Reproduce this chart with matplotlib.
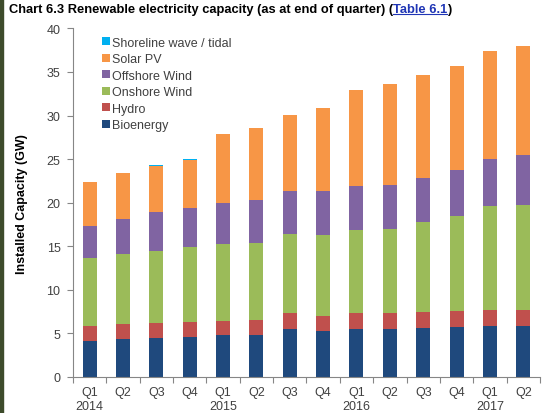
# Chart 6.3 - renewable electricity capacity, stacked bars by quarter

import matplotlib.pyplot as plt
from matplotlib.lines import Line2D
from matplotlib.patches import Rectangle

plt.rcParams['font.family'] = ['Liberation Sans', 'DejaVu Sans']

quarters = ['Q1\n2014', 'Q2', 'Q3', 'Q4', 'Q1\n2015', 'Q2', 'Q3', 'Q4',
            'Q1\n2016', 'Q2', 'Q3', 'Q4', 'Q1\n2017', 'Q2']

# GW
bioenergy = [4.16, 4.32, 4.43, 4.58, 4.78, 4.81, 5.54, 5.27, 5.50, 5.54, 5.65, 5.73, 5.81, 5.81]
hydro = [1.72, 1.75, 1.76, 1.72, 1.67, 1.72, 1.80, 1.72, 1.84, 1.80, 1.76, 1.83, 1.87, 1.87]
onshore = [7.72, 8.06, 8.29, 8.60, 8.79, 8.86, 9.01, 9.28, 9.47, 9.62, 10.35, 10.93, 11.92, 12.11]
offshore = [3.74, 4.02, 4.43, 4.50, 4.74, 4.93, 5.00, 5.08, 5.08, 5.12, 5.05, 5.27, 5.42, 5.65]
solar = [5.01, 5.23, 5.35, 5.55, 7.91, 8.25, 8.68, 9.52, 11.04, 11.50, 11.80, 11.96, 12.42, 12.58]
tidal = [0.01, 0.01, 0.01, 0.01, 0.01, 0.01, 0.01, 0.01, 0.01, 0.01, 0.01, 0.01, 0.01, 0.01]

series = [
    ('Bioenergy', bioenergy, '#1F497D'),
    ('Hydro', hydro, '#C0504D'),
    ('Onshore Wind', onshore, '#9BBB59'),
    ('Offshore Wind', offshore, '#8064A2'),
    ('Solar PV', solar, '#F79646'),
    ('Shoreline wave / tidal', tidal, '#00B0F0'),
]

fig = plt.figure(figsize=(5.5, 4.14), dpi=100)
ax = fig.add_axes([0.1327, 0.087, 0.849, 0.842])

x = list(range(len(quarters)))
bottom = [0.0] * len(quarters)
handles = []
for name, vals, color in series:
    b = ax.bar(x, vals, width=0.42, bottom=bottom, color=color, label=name, zorder=2)
    handles.append(b)
    bottom = [s + v for s, v in zip(bottom, vals)]

ax.set_xlim(-0.5, len(quarters) - 0.5)
ax.set_ylim(0, 40)
ax.set_yticks(range(0, 41, 5))

grey = '#868686'
for side in ['top', 'right']:
    ax.spines[side].set_visible(False)
for side in ['left', 'bottom']:
    ax.spines[side].set_color(grey)
    ax.spines[side].set_linewidth(0.8)

# category labels centred, tick marks on the boundaries
ax.set_xticks(x)
ax.set_xticklabels(quarters, fontsize=9, color='#404040', linespacing=1.2)
ax.tick_params(axis='x', length=0, pad=6.5)
ax.set_xticks([i - 0.5 for i in range(len(quarters) + 1)], minor=True)
ax.tick_params(axis='x', which='minor', length=4, color=grey, width=0.8)
ax.tick_params(axis='y', labelsize=9, labelcolor='#404040', length=4, color=grey, width=0.8, pad=5)

ax.set_ylabel('Installed Capacity (GW)', fontsize=9, fontweight='bold', labelpad=13)

leg = ax.legend(handles[::-1], [s[0] for s in series][::-1], loc='upper left',
                bbox_to_anchor=(0.045, 1.0), frameon=False, fontsize=9,
                handlelength=0.6, handleheight=0.6, handletextpad=0.2,
                labelspacing=0.36, borderaxespad=0.25)
for t in leg.get_texts():
    t.set_color('#404040')

# title with the table link in blue
ty = 0.976
t1 = fig.text(0.016, ty, 'Chart 6.3 Renewable electricity capacity (as at end of quarter) (',
              fontsize=9.3, fontweight='bold', va='center', ha='left')
fig.canvas.draw()
r = fig.canvas.get_renderer()
bb = t1.get_window_extent(r).transformed(fig.transFigure.inverted())
t2 = fig.text(bb.x1, ty, 'Table 6.1', fontsize=9.3, fontweight='bold',
              va='center', ha='left', color='#1F35B5')
bb2 = t2.get_window_extent(r).transformed(fig.transFigure.inverted())
fig.text(bb2.x1, ty, ')', fontsize=9.3, fontweight='bold', va='center', ha='left')
fig.add_artist(Line2D([bb2.x0, bb2.x1], [bb2.y0 + 0.002, bb2.y0 + 0.002],
                      transform=fig.transFigure, color='#1F35B5', linewidth=0.8))

# dark frame strip on the left edge
fig.add_artist(Rectangle((0, 0), 0.006, 1, transform=fig.transFigure,
                         color='#3D4B2B', zorder=5))

fig.savefig('out.png', dpi=100)
